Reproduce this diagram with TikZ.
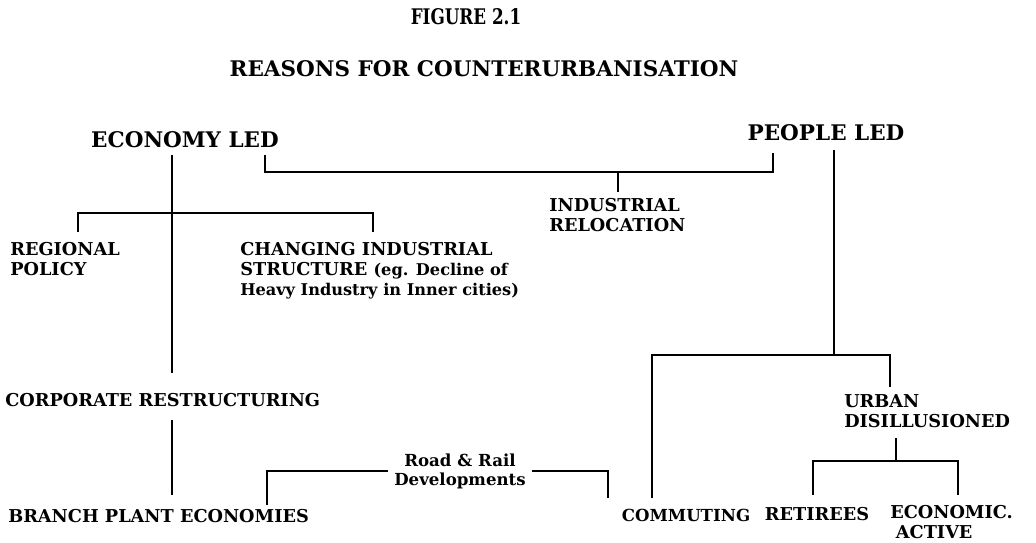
\documentclass[tikz,border=0pt]{standalone}
\usepackage{fontspec}
\setmainfont{DejaVu Serif}
\tikzset{
  bigtext/.style={font=\fontsize{15.3}{18}\selectfont\bfseries},
  smalltext/.style={font=\fontsize{12.6}{14.2}\selectfont\bfseries, align=left},
  mixtext/.style={font=\fontsize{11.8}{13.6}\selectfont\bfseries, align=center},
  link/.style={black, line width=1.4pt}
}
\newcommand{\lowpart}[1]{{\fontsize{11.5}{14.2}\selectfont #1}}
\begin{document}
\begin{tikzpicture}[x=0.025cm,y=-0.025cm]
\tikzstyle{every node}+=[inner sep=0pt]
\useasboundingbox (0,0) rectangle (1036,543);
% titles
\node[bigtext, anchor=north] (fig) at (466,8) {\scalebox{0.78}[1]{FIGURE 2.1}};
\node[bigtext, anchor=north] (reasons) at (484,60) {REASONS FOR COUNTERURBANISATION};
% top level
\node[bigtext, anchor=north] (ecoled) at (185,131) {ECONOMY LED};
\node[bigtext, anchor=north] (peopled) at (826,124) {PEOPLE LED};
\node[smalltext, anchor=north west] (indrel) at (549,198) {INDUSTRIAL\\RELOCATION};
% economy side
\node[smalltext, anchor=north west] (regpol) at (10,242) {REGIONAL\\POLICY};
\node[smalltext, anchor=north west] (chgind) at (240,242) {CHANGING INDUSTRIAL\\STRUCTURE \lowpart{(eg. Decline of}\\\lowpart{Heavy Industry in Inner cities)}};
\node[smalltext, anchor=north west] (corp) at (5,393) {CORPORATE RESTRUCTURING};
\node[smalltext, anchor=north west] (branch) at (8,509) {BRANCH PLANT ECONOMIES};
\node[mixtext] (road) at (460,471) {Road \& Rail\\Developments};
% people side
\node[mixtext, anchor=north] (commute) at (686,509) {COMMUTING};
\node[smalltext, anchor=north west] (urban) at (844,394) {URBAN\\DISILLUSIONED};
\node[smalltext, anchor=north] (retire) at (817,507) {RETIREES};
\node[smalltext, anchor=north west] (econact) at (890,505) {ECONOMIC.\\\hspace*{4pt}ACTIVE};
% junction points
\coordinate (ecotop) at (172,155);
\coordinate (ecobot) at (172,373);
\coordinate (corpbot) at (172,420);
\coordinate (branchtop) at (172,495);
\coordinate (ecoright) at (265,155);
\coordinate (peoleft) at (773,153);
\coordinate (relotop) at (618,192);
\coordinate (regtop) at (78,232);
\coordinate (chgtop) at (373,232);
\coordinate (roadleft) at (267,505);
\coordinate (roadright) at (608,498);
\coordinate (peotop) at (834,150);
\coordinate (peomid) at (834,355);
\coordinate (commtop) at (652,498);
\coordinate (urbtop) at (890,387);
\coordinate (urbbot) at (896,438);
\coordinate (urbmid) at (896,461);
\coordinate (rettop) at (813,495);
\coordinate (acttop) at (958,495);
% connectors
\draw[link] (ecotop) -- (ecobot);
\draw[link] (corpbot) -- (branchtop);
\draw[link] (ecoright) -- ++(0,17) -| (peoleft);
\draw[link] (relotop) -- (relotop |- 0,172);
\draw[link] (regtop) -- ++(0,-19) -| (chgtop);
\draw[link] (roadleft) |- ([xshift=-4pt]road.west);
\draw[link] ([xshift=4pt]road.east) -| (roadright);
\draw[link] (peotop) -- (peomid);
\draw[link] (commtop) |- (urbtop |- peomid) -- (urbtop);
\draw[link] (urbbot) -- (urbmid);
\draw[link] (rettop) |- (acttop |- urbmid) -- (acttop);
\end{tikzpicture}
\end{document}
